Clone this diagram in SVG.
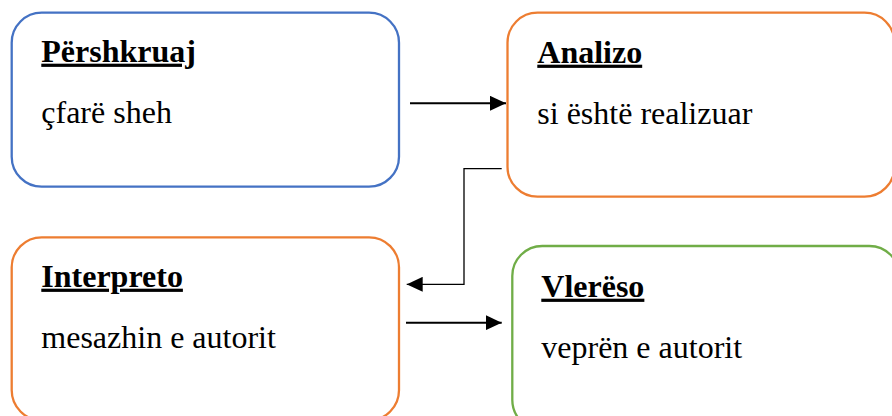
<svg xmlns="http://www.w3.org/2000/svg" width="892" height="416" viewBox="0 0 892 416">
<defs>
<style>
.box{fill:#fff;stroke-width:2.3}
.blue{stroke:#4472C4}
.orange{stroke:#ED7D31}
.green{stroke:#70AD47}
.title{font-family:"Liberation Serif","Times New Roman",serif;font-size:32px;font-weight:bold;text-decoration:underline;fill:#000}
.body{font-family:"Liberation Serif","Times New Roman",serif;font-size:32px;fill:#000}
.conn{fill:none;stroke:#000}
</style>
<marker id="ah" viewBox="0 0 10 10" refX="10" refY="5" markerWidth="16" markerHeight="15" markerUnits="userSpaceOnUse" orient="auto" preserveAspectRatio="none">
<path d="M0,0 L10,5 L0,10 z" fill="#000"/>
</marker>
</defs>
<g id="pershkruaj">
<rect class="box blue" x="11.7" y="12.7" width="387.3" height="174" rx="30"/>
<text class="title" x="41.3" y="61.7">Përshkruaj</text>
<text class="body" x="41.3" y="123">çfarë sheh</text>
</g>
<g id="analizo">
<rect class="box orange" x="507.5" y="12.7" width="387" height="184" rx="30"/>
<text class="title" x="537.3" y="62.7">Analizo</text>
<text class="body" x="537.3" y="124">si është realizuar</text>
</g>
<g id="interpreto">
<rect class="box orange" x="11.7" y="237.3" width="387.3" height="183" rx="30"/>
<text class="title" x="41.3" y="286.7">Interpreto</text>
<text class="body" x="41.3" y="348.3">mesazhin e autorit</text>
</g>
<g id="vlereso">
<rect class="box green" x="512.3" y="246" width="387" height="184" rx="30"/>
<text class="title" x="541.3" y="296.7">Vlerëso</text>
<text class="body" x="541.3" y="357.7">veprën e autorit</text>
</g>
<g id="connectors">
<line class="conn" x1="410" y1="103.3" x2="506" y2="103.3" stroke-width="2" marker-end="url(#ah)"/>
<polyline class="conn" points="501.7,168.7 464,168.7 464,284.3 406.7,284.3" stroke-width="1.3" stroke="#222" marker-end="url(#ah)"/>
<line class="conn" x1="406" y1="322.7" x2="501.7" y2="322.7" stroke-width="2" marker-end="url(#ah)"/>
</g>
</svg>
